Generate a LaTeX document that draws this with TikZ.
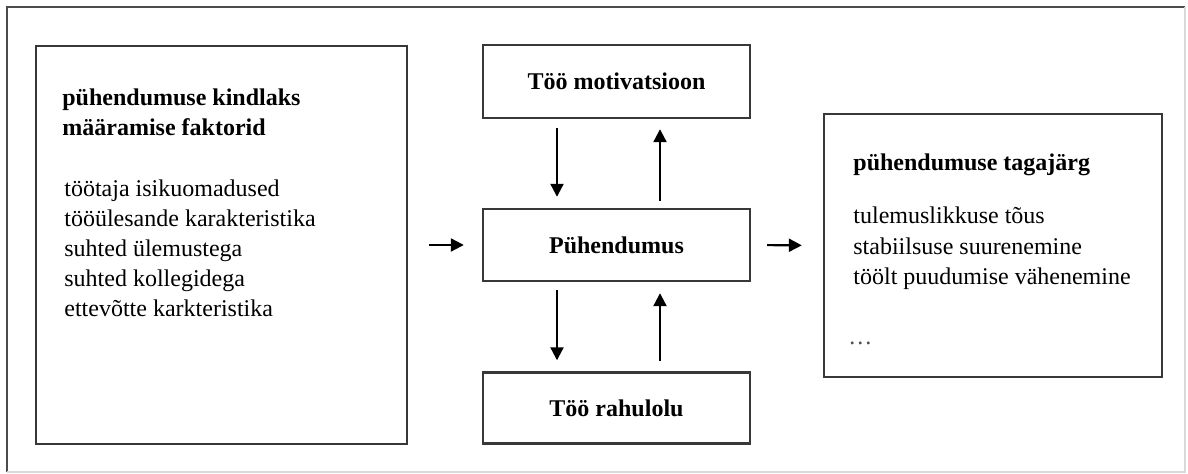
\documentclass[tikz,border=0pt]{standalone}
\usepackage{fontspec}
\setmainfont{Liberation Serif}
\usepackage{tikz}
\usetikzlibrary{arrows.meta,positioning}

\begin{document}
\begin{tikzpicture}[x=0.5pt,y=-0.5pt,
  box/.style={draw=black!78,line width=1.2pt,inner sep=0pt},
  txt/.style={font=\fontsize{12}{15}\selectfont,inner sep=0pt,anchor=base west},
  head/.style={txt,font=\fontsize{12}{15}\selectfont\bfseries},
  arr/.style={line width=1.1pt,-{Triangle[length=6.5pt,width=6.5pt]}}]
\useasboundingbox (0,0) rectangle (1188,474);
% outer frame
\draw[line width=1.1pt,black!70] (7,472)--(7,7)--(1185,7);
\draw[line width=0.8pt,black!15] (7,472)--(1185,472)--(1185,7);
% boxes
\node[box,minimum width=185.5pt,minimum height=199pt] (factors) at (221.5,245){};
\node[box,minimum width=133.5pt,minimum height=36.5pt,font=\fontsize{12}{15}\selectfont\bfseries] (motiv) at (616.5,81.5){Töö motivatsioon};
\node[box,minimum width=133.5pt,minimum height=36pt,font=\fontsize{12}{15}\selectfont\bfseries] (pyh) at (616.5,245){Pühendumus};
\node[box,minimum width=133.5pt,minimum height=35.5pt,font=\fontsize{12}{15}\selectfont\bfseries] (rahul) at (616.5,408){Töö rahulolu};
\node[box,minimum width=169pt,minimum height=131.5pt] (result) at (993,245.5){};
% left box texts
\node[head] (fh1) at (62,106){pühendumuse kindlaks};
\node[head] (fh2) at (62,136){määramise faktorid};
\foreach \t [count=\i from 0] in {töötaja isikuomadused,tööülesande karakteristika,suhted ülemustega,suhted kollegidega,ettevõtte karkteristika}
  \node[txt] (f\i) at (64,{197+30*\i}){\t};
% right box texts
\node[head] (rh) at (853,171){pühendumuse tagajärg};
\foreach \t [count=\i from 0] in {tulemuslikkuse tõus,stabiilsuse suurenemine,töölt puudumise vähenemine}
  \node[txt] (r\i) at (853,{224+30.5*\i}){\t};
\node[txt,text=black!70] (rdots) at (848,345){\dots};
% arrows
\draw[arr,shorten <=10.5pt,shorten >=9pt] (factors.east)--(pyh.west);
\draw[arr,shorten <=8pt,shorten >=10.5pt] (pyh.east)--(result.west);
\draw[arr,shorten <=4.5pt,shorten >=5.5pt] ([xshift=-29.75pt]motiv.south)--([xshift=-29.75pt]pyh.north);
\draw[arr,shorten <=3.5pt,shorten >=5pt] ([xshift=21.75pt]pyh.north)--([xshift=21.75pt]motiv.south);
\draw[arr,shorten <=4pt,shorten >=5.5pt] ([xshift=-29.75pt]pyh.south)--([xshift=-29.75pt]rahul.north);
\draw[arr,shorten <=5pt,shorten >=5.5pt] ([xshift=21.75pt]rahul.north)--([xshift=21.75pt]pyh.south);
\end{tikzpicture}
\end{document}
